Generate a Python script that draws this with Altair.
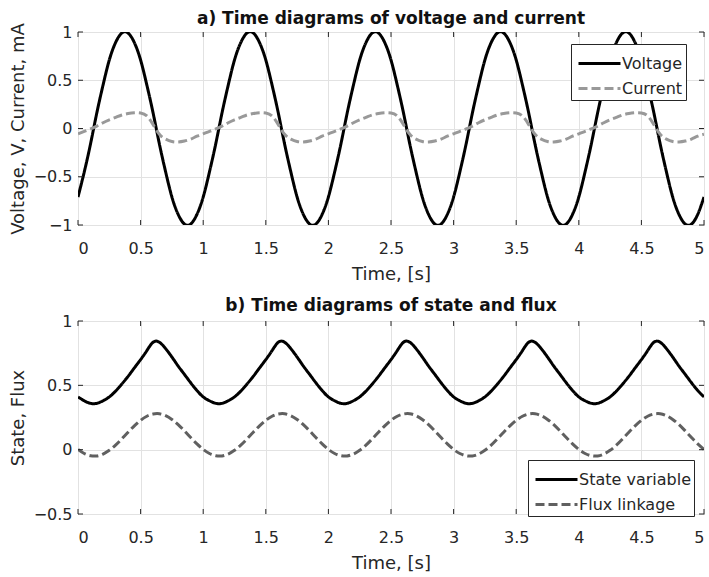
import altair as alt
import pandas as pd

# ---------------- data ----------------
time = [0.00, 0.05, 0.10, 0.15, 0.20, 0.25, 0.30, 0.35, 0.40, 0.45,
        0.50, 0.55, 0.60, 0.65, 0.70, 0.75, 0.80, 0.85, 0.90, 0.95,
        1.00, 1.05, 1.10, 1.15, 1.20, 1.25, 1.30, 1.35, 1.40, 1.45,
        1.50, 1.55, 1.60, 1.65, 1.70, 1.75, 1.80, 1.85, 1.90, 1.95,
        2.00, 2.05, 2.10, 2.15, 2.20, 2.25, 2.30, 2.35, 2.40, 2.45,
        2.50, 2.55, 2.60, 2.65, 2.70, 2.75, 2.80, 2.85, 2.90, 2.95,
        3.00, 3.05, 3.10, 3.15, 3.20, 3.25, 3.30, 3.35, 3.40, 3.45,
        3.50, 3.55, 3.60, 3.65, 3.70, 3.75, 3.80, 3.85, 3.90, 3.95,
        4.00, 4.05, 4.10, 4.15, 4.20, 4.25, 4.30, 4.35, 4.40, 4.45,
        4.50, 4.55, 4.60, 4.65, 4.70, 4.75, 4.80, 4.85, 4.90, 4.95,
        5.00]

voltage = [-0.71, -0.45, -0.16, 0.16, 0.45, 0.71, 0.89, 0.99, 0.99, 0.89,
           0.71, 0.45, 0.16, -0.16, -0.45, -0.71, -0.89, -0.99, -0.99, -0.89,
           -0.71, -0.45, -0.16, 0.16, 0.45, 0.71, 0.89, 0.99, 0.99, 0.89,
           0.71, 0.45, 0.16, -0.16, -0.45, -0.71, -0.89, -0.99, -0.99, -0.89,
           -0.71, -0.45, -0.16, 0.16, 0.45, 0.71, 0.89, 0.99, 0.99, 0.89,
           0.71, 0.45, 0.16, -0.16, -0.45, -0.71, -0.89, -0.99, -0.99, -0.89,
           -0.71, -0.45, -0.16, 0.16, 0.45, 0.71, 0.89, 0.99, 0.99, 0.89,
           0.71, 0.45, 0.16, -0.16, -0.45, -0.71, -0.89, -0.99, -0.99, -0.89,
           -0.71, -0.45, -0.16, 0.16, 0.45, 0.71, 0.89, 0.99, 0.99, 0.89,
           0.71, 0.45, 0.16, -0.16, -0.45, -0.71, -0.89, -0.99, -0.99, -0.89,
           -0.71]

current = [-0.055, -0.03, -0.005, 0.025, 0.06, 0.09, 0.115, 0.14, 0.155, 0.163,
           0.16, 0.13, 0.04, -0.06, -0.11, -0.135, -0.14, -0.13, -0.11, -0.08,
           -0.055, -0.03, -0.005, 0.025, 0.06, 0.09, 0.115, 0.14, 0.155, 0.163,
           0.16, 0.13, 0.04, -0.06, -0.11, -0.135, -0.14, -0.13, -0.11, -0.08,
           -0.055, -0.03, -0.005, 0.025, 0.06, 0.09, 0.115, 0.14, 0.155, 0.163,
           0.16, 0.13, 0.04, -0.06, -0.11, -0.135, -0.14, -0.13, -0.11, -0.08,
           -0.055, -0.03, -0.005, 0.025, 0.06, 0.09, 0.115, 0.14, 0.155, 0.163,
           0.16, 0.13, 0.04, -0.06, -0.11, -0.135, -0.14, -0.13, -0.11, -0.08,
           -0.055, -0.03, -0.005, 0.025, 0.06, 0.09, 0.115, 0.14, 0.155, 0.163,
           0.16, 0.13, 0.04, -0.06, -0.11, -0.135, -0.14, -0.13, -0.11, -0.08,
           -0.06]

state = [0.41, 0.38, 0.36, 0.36, 0.38, 0.41, 0.455, 0.51, 0.57, 0.635,
         0.70, 0.77, 0.835, 0.835, 0.785, 0.72, 0.65, 0.585, 0.52, 0.46,
         0.41, 0.38, 0.36, 0.36, 0.38, 0.41, 0.455, 0.51, 0.57, 0.635,
         0.70, 0.77, 0.835, 0.835, 0.785, 0.72, 0.65, 0.585, 0.52, 0.46,
         0.41, 0.38, 0.36, 0.36, 0.38, 0.41, 0.455, 0.51, 0.57, 0.635,
         0.70, 0.77, 0.835, 0.835, 0.785, 0.72, 0.65, 0.585, 0.52, 0.46,
         0.41, 0.38, 0.36, 0.36, 0.38, 0.41, 0.455, 0.51, 0.57, 0.635,
         0.70, 0.77, 0.835, 0.835, 0.785, 0.72, 0.65, 0.585, 0.52, 0.46,
         0.41, 0.38, 0.36, 0.36, 0.38, 0.41, 0.455, 0.51, 0.57, 0.635,
         0.70, 0.77, 0.835, 0.835, 0.785, 0.72, 0.65, 0.585, 0.52, 0.46,
         0.41]

flux = [0.002, -0.030, -0.047, -0.049, -0.034, -0.005, 0.035, 0.084, 0.136, 0.185,
        0.228, 0.260, 0.277, 0.279, 0.264, 0.235, 0.195, 0.146, 0.094, 0.045,
        0.002, -0.030, -0.047, -0.049, -0.034, -0.005, 0.035, 0.084, 0.136, 0.185,
        0.228, 0.260, 0.277, 0.279, 0.264, 0.235, 0.195, 0.146, 0.094, 0.045,
        0.002, -0.030, -0.047, -0.049, -0.034, -0.005, 0.035, 0.084, 0.136, 0.185,
        0.228, 0.260, 0.277, 0.279, 0.264, 0.235, 0.195, 0.146, 0.094, 0.045,
        0.002, -0.030, -0.047, -0.049, -0.034, -0.005, 0.035, 0.084, 0.136, 0.185,
        0.228, 0.260, 0.277, 0.279, 0.264, 0.235, 0.195, 0.146, 0.094, 0.045,
        0.002, -0.030, -0.047, -0.049, -0.034, -0.005, 0.035, 0.084, 0.136, 0.185,
        0.228, 0.260, 0.277, 0.279, 0.264, 0.235, 0.195, 0.146, 0.094, 0.045,
        0.002]

x_ticks = [0, 0.5, 1, 1.5, 2, 2.5, 3, 3.5, 4, 4.5, 5]
y_ticks_a = [-1, -0.5, 0, 0.5, 1]
y_ticks_b = [-0.5, 0, 0.5, 1]

series_a = ["Voltage", "Current"]
series_b = ["State variable", "Flux linkage"]

# ---------------- styling ----------------
W, H = 626, 193
FONT = "DejaVu Sans"
TXT = "#262626"
TICK = 5


def panel(names, values, colors, dashes, ydomain, yticks, ytitle, title, lx, ly, toff):
    df = pd.concat(
        [pd.DataFrame({"time": time, "value": v, "series": n}) for n, v in zip(names, values)],
        ignore_index=True,
    )
    xscale = alt.Scale(domain=[0, 5], nice=False, zero=False)
    yscale = alt.Scale(domain=ydomain, nice=False, zero=False)
    xaxis = alt.Axis(values=x_ticks, format="~g", title="Time, [s]")
    yaxis = alt.Axis(values=yticks, format="~g", title=ytitle)
    leg = alt.Legend(
        title=None, orient="none", legendX=lx, legendY=ly,
        fillColor="white", strokeColor=TXT, padding=3, cornerRadius=0,
        symbolType="M-1.4,0H1.4", symbolSize=900, symbolStrokeWidth=3,
        symbolOffset=9,
        labelFont=FONT, labelFontSize=16, labelColor=TXT, labelOffset=6,
        rowPadding=0,
    )
    lines = alt.Chart(df).mark_line(strokeWidth=3, interpolate="natural", clip=True).encode(
        x=alt.X("time:Q", scale=xscale, axis=xaxis),
        y=alt.Y("value:Q", scale=yscale, axis=yaxis),
        color=alt.Color("series:N", scale=alt.Scale(domain=names, range=colors), legend=leg),
        strokeDash=alt.StrokeDash("series:N", scale=alt.Scale(domain=names, range=dashes), legend=leg),
    )
    xt = pd.DataFrame({"time": x_ticks})
    yt = pd.DataFrame({"value": yticks})
    tb = alt.Chart(xt).mark_rule(color=TXT, strokeWidth=1).encode(
        x=alt.X("time:Q", scale=xscale, axis=xaxis), y=alt.value(H), y2=alt.value(H - TICK))
    tt = alt.Chart(xt).mark_rule(color=TXT, strokeWidth=1).encode(
        x=alt.X("time:Q", scale=xscale, axis=xaxis), y=alt.value(0), y2=alt.value(TICK))
    tl = alt.Chart(yt).mark_rule(color=TXT, strokeWidth=1).encode(
        y=alt.Y("value:Q", scale=yscale, axis=yaxis), x=alt.value(0), x2=alt.value(TICK))
    tr = alt.Chart(yt).mark_rule(color=TXT, strokeWidth=1).encode(
        y=alt.Y("value:Q", scale=yscale, axis=yaxis), x=alt.value(W), x2=alt.value(W - TICK))
    return alt.layer(lines, tb, tt, tl, tr).properties(
        width=W, height=H,
        title=alt.TitleParams(title, font=FONT, fontSize=17, fontWeight="bold",
                              color="#111111", offset=toff, anchor="middle", frame="group"),
    )


top = panel(series_a, [voltage, current], ["#000000", "#999999"], [[1, 0], [9, 4]],
            [-1, 1], y_ticks_a, "Voltage, V, Current, mA",
            "a) Time diagrams of voltage and current", 493, 12, -5)
bottom = panel(series_b, [state, flux], ["#000000", "#606060"], [[1, 0], [9, 4]],
               [-0.5, 1], y_ticks_b, "State, Flux",
               "b) Time diagrams of state and flux", 450, 139, -2)

chart = alt.vconcat(top, bottom, spacing=12, background="white").resolve_scale(
    color="independent", strokeDash="independent", x="independent", y="independent"
).resolve_legend(
    color="independent", strokeDash="independent"
).properties(
    padding={"left": 8, "top": 9, "right": 0, "bottom": 2},
).configure_view(
    stroke=TXT, strokeWidth=1
).configure_axis(
    grid=True, gridColor="#e2e2e2", gridWidth=1, domain=False, ticks=False,
    labelFont=FONT, labelFontSize=16, labelColor=TXT, labelPadding=6,
    titleFont=FONT, titleFontSize=18, titleColor=TXT, titleFontWeight="normal",
    titlePadding=6,
).configure_axisX(
    labelPadding=15, titlePadding=9
)

chart.save("out.html", embed_options={"renderer": "svg", "actions": False})
